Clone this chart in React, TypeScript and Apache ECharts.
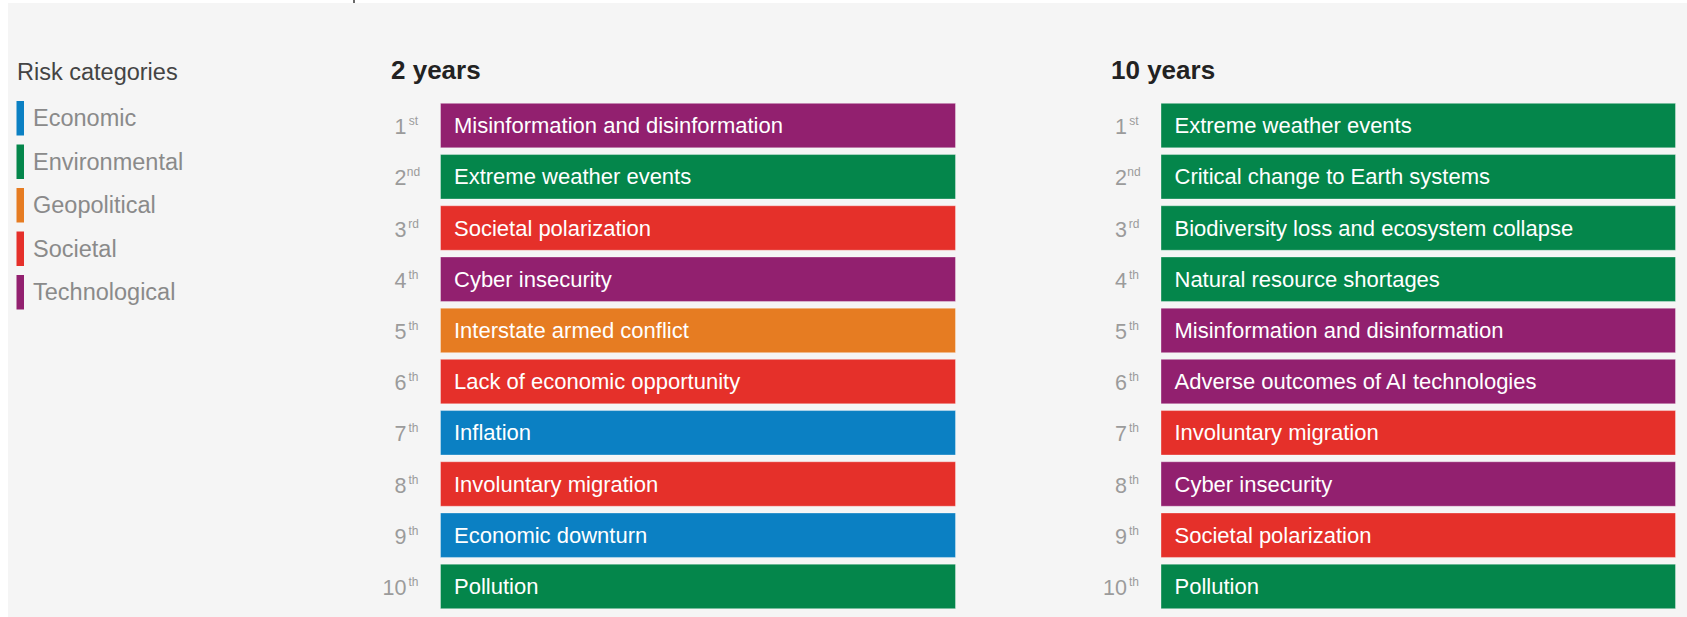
import React, { useEffect, useRef } from "react";
import * as echarts from "echarts";

const FONT = "'Liberation Sans', 'Helvetica Neue', Helvetica, Arial, sans-serif";

const categories = ["Economic", "Environmental", "Geopolitical", "Societal", "Technological"];
const categoryColors = ["#0b80c3", "#04864b", "#e67c22", "#e5302a", "#92206f"];

const rankLabels = ["1st", "2nd", "3rd", "4th", "5th", "6th", "7th", "8th", "9th", "10th"];

const periodTitles = ["2 years", "10 years"];

const risks2y = [
  "Misinformation and disinformation",
  "Extreme weather events",
  "Societal polarization",
  "Cyber insecurity",
  "Interstate armed conflict",
  "Lack of economic opportunity",
  "Inflation",
  "Involuntary migration",
  "Economic downturn",
  "Pollution",
];
const cats2y = [
  "Technological",
  "Environmental",
  "Societal",
  "Technological",
  "Geopolitical",
  "Societal",
  "Economic",
  "Societal",
  "Economic",
  "Environmental",
];
// every ranked risk is drawn as a full-length bar
const barLength2y = [1, 1, 1, 1, 1, 1, 1, 1, 1, 1];

const risks10y = [
  "Extreme weather events",
  "Critical change to Earth systems",
  "Biodiversity loss and ecosystem collapse",
  "Natural resource shortages",
  "Misinformation and disinformation",
  "Adverse outcomes of AI technologies",
  "Involuntary migration",
  "Cyber insecurity",
  "Societal polarization",
  "Pollution",
];
const cats10y = [
  "Environmental",
  "Environmental",
  "Environmental",
  "Environmental",
  "Technological",
  "Technological",
  "Societal",
  "Technological",
  "Societal",
  "Environmental",
];
const barLength10y = [1, 1, 1, 1, 1, 1, 1, 1, 1, 1];

function buildSeries(gridIndex: number, risks: string[], cats: string[], lengths: number[]) {
  return categories.map((c, ci) => ({
    type: "bar",
    name: c,
    xAxisIndex: gridIndex,
    yAxisIndex: gridIndex,
    barWidth: 45.5,
    barGap: "-100%",
    itemStyle: {
      color: categoryColors[ci],
      borderColor: "rgba(255,255,255,0.35)",
      borderWidth: 1,
    },
    label: {
      show: true,
      position: "insideLeft",
      distance: 14,
      color: "#ffffff",
      fontSize: 22,
      fontFamily: FONT,
      formatter: (p: any) => risks[p.dataIndex],
    },
    data: lengths.map((v, i) => (cats[i] === c ? v : "-")),
  }));
}

function rankAxis(gridIndex: number) {
  return {
    type: "category",
    gridIndex,
    inverse: true,
    data: rankLabels,
    axisLine: { show: false },
    axisTick: { show: false },
    splitLine: { show: false },
    axisLabel: {
      margin: 19.5,
      formatter: (v: string) => {
        const m = v.match(/^(\d+)(\D+)$/);
        return m ? `{n|${m[1]}}{s|${m[2]}}` : v;
      },
      rich: {
        n: {
          fontSize: 21.5,
          color: "#9b9b9b",
          fontFamily: FONT,
          lineHeight: 24,
          padding: [3, 0, 0, 0],
          verticalAlign: "middle",
        },
        s: {
          fontSize: 12,
          color: "#9b9b9b",
          fontFamily: FONT,
          width: 14,
          align: "left",
          lineHeight: 14,
          padding: [0, 0, 9, 0],
          verticalAlign: "middle",
        },
      },
    },
  };
}

function valueAxis(gridIndex: number) {
  return {
    type: "value",
    gridIndex,
    min: 0,
    max: 1,
    show: false,
  };
}

export default function App() {
  const ref = useRef<HTMLDivElement>(null);

  useEffect(() => {
    if (!ref.current) return;
    const chart = echarts.init(ref.current, undefined, { renderer: "svg" });
    const option: any = {
      animation: false,
      backgroundColor: "#f5f5f5",
      title: [
        {
          text: "Risk categories",
          left: 17,
          top: 60,
          padding: 0,
          textStyle: { fontSize: 23.5, fontWeight: "normal", color: "#444444", fontFamily: FONT },
        },
        {
          text: periodTitles[0],
          left: 391,
          top: 57,
          padding: 0,
          textStyle: { fontSize: 26, fontWeight: "bold", color: "#222222", fontFamily: FONT },
        },
        {
          text: periodTitles[1],
          left: 1111,
          top: 57,
          padding: 0,
          textStyle: { fontSize: 26, fontWeight: "bold", color: "#222222", fontFamily: FONT },
        },
      ],
      legend: {
        data: categories,
        orient: "vertical",
        left: 16.5,
        top: 101,
        padding: 0,
        icon: "rect",
        itemWidth: 7.5,
        itemHeight: 34.5,
        itemGap: 9,
        selectedMode: false,
        itemStyle: { borderWidth: 0 },
        textStyle: { fontSize: 23.5, color: "#8a8a8a", fontFamily: FONT, padding: [3, 0, 0, 4] },
      },
      grid: [
        { left: 440, top: 100, width: 516, height: 512 },
        { left: 1160.5, top: 100, width: 515.5, height: 512 },
      ],
      xAxis: [valueAxis(0), valueAxis(1)],
      yAxis: [rankAxis(0), rankAxis(1)],
      series: [
        ...buildSeries(0, risks2y, cats2y, barLength2y),
        ...buildSeries(1, risks10y, cats10y, barLength10y),
      ],
      graphic: [
        { type: "rect", shape: { x: 0, y: 0, width: 1687, height: 3 }, style: { fill: "#ffffff" }, silent: true },
        { type: "rect", shape: { x: 0, y: 0, width: 8, height: 617 }, style: { fill: "#ffffff" }, silent: true },
        { type: "rect", shape: { x: 353, y: 0, width: 2, height: 3 }, style: { fill: "#6a6a6a" }, silent: true },
      ],
    };
    chart.setOption(option);
    return () => chart.dispose();
  }, []);

  return (
    <div
      ref={ref}
      style={{ position: "absolute", left: 0, top: 0, width: 1687, height: 617 }}
    />
  );
}
